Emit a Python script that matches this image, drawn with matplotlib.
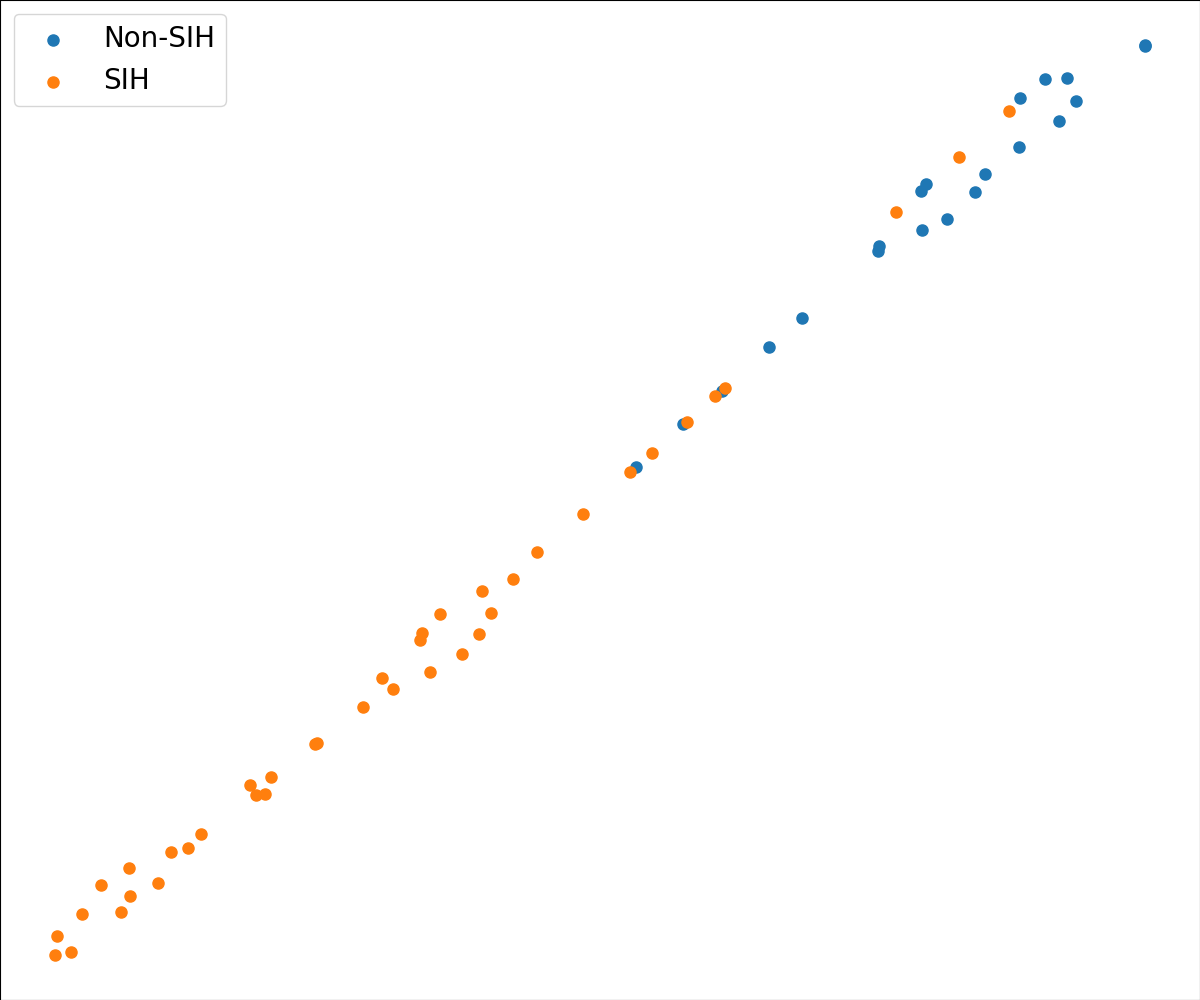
import matplotlib
matplotlib.use("Agg")
import matplotlib.pyplot as plt

# point positions (x to the right, y upward)
non_sih_x = [1145, 1145, 1045, 1067, 1020, 1076, 1059, 1019, 985, 926, 921, 975, 947, 922,
             879, 878, 802, 769, 722, 683, 636]
non_sih_y = [955, 954, 921, 922, 902, 899, 879, 853, 826, 816, 809, 808, 781, 770,
             754, 749, 682, 653, 609, 576, 533]

sih_x = [1009, 959, 896, 725, 715, 687, 652, 630, 583, 537, 513, 482, 440, 491, 422, 420,
         479, 462, 430, 382, 393, 363, 315, 317, 271, 250, 256, 265, 201, 188, 171, 129,
         101, 158, 130, 82, 121, 57, 55, 71]
sih_y = [889, 843, 788, 612, 604, 578, 547, 528, 486, 448, 421, 409, 386, 387, 367, 360,
         366, 346, 328, 322, 311, 293, 256, 257, 223, 215, 205, 206, 166, 152, 148, 132,
         115, 117, 104, 86, 88, 64, 45, 48]

fig = plt.figure(figsize=(12, 10), dpi=100)
ax = fig.add_axes([0, 0, 1, 1])

ax.scatter(non_sih_x, non_sih_y, s=64, color='#1f77b4', label='Non-SIH', zorder=2)
ax.scatter(sih_x, sih_y, s=64, color='#ff7f0e', label='SIH', zorder=3)

ax.set_xlim(0, 1200)
ax.set_ylim(0, 1000)
ax.set_xticks([])
ax.set_yticks([])

ax.legend(loc='upper left', fontsize=20, handletextpad=0.8, borderpad=0.4)

fig.savefig('out.png', dpi=100)
